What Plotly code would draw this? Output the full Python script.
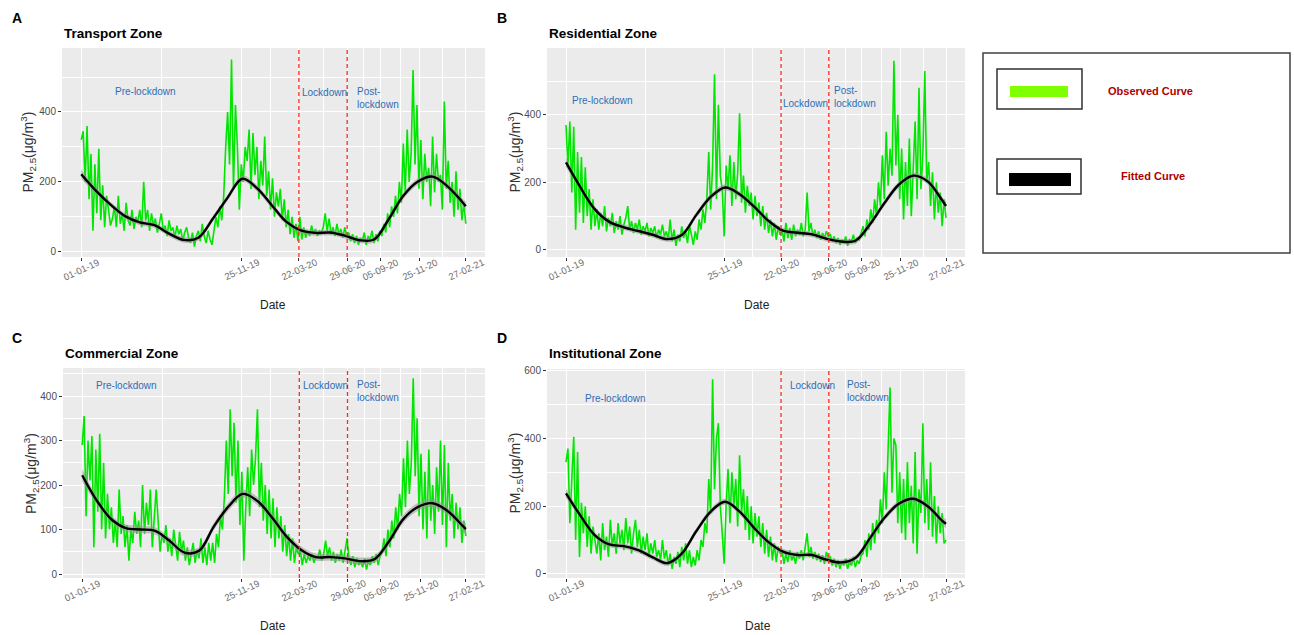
import pandas as pd
import plotly.graph_objects as go

# ---------------- data ----------------
START = pd.Timestamp("2019-01-01")
STEP_DAYS = 4          # observed series sampled every 4 days (01-01-19 .. 27-02-21)
N_OBS = 198

TICK_DAYS = [0, 328, 446, 545, 613, 694, 788]
TICK_LABELS = ["01-01-19", "25-11-19", "22-03-20", "29-06-20", "05-09-20", "25-11-20", "27-02-21"]
LOCKDOWN_DAYS = [446, 545]   # 22-03-20 and 29-06-20

FIT_DAYS = [0, 30, 60, 90, 120, 150, 180, 210, 240, 270, 300, 330, 360, 390, 420,
            450, 480, 510, 540, 570, 600, 630, 660, 690, 720, 750, 780, 788]

transport_obs = [
    320, 345, 200, 360, 150, 280, 60, 250, 110, 295, 90, 190, 70, 160, 120, 75,
    95, 130, 70, 160, 80, 110, 60, 140, 90, 75, 120, 65, 100, 85, 120,
    70, 200, 90, 120, 60, 110, 75, 95, 55, 80, 110, 60, 75, 45, 90, 60, 70,
    40, 75, 50, 65, 30, 55, 70, 40, 25, 55, 15, 45, 60, 30, 80, 45, 25, 60,
    35, 20, 60, 100, 70, 130, 90, 160, 300, 400, 250, 550, 180, 420, 300, 120, 250,
    200, 300, 260, 350, 180, 340, 220, 300, 150, 260, 190, 330, 160, 230, 120, 210, 100, 170,
    130, 180, 90, 150, 70, 120, 50, 100, 40, 80, 30,
    100, 35, 70, 40, 60, 45, 75, 50, 65, 45, 60, 55, 70, 110, 60, 95, 50, 70, 45, 80, 50, 65, 40, 70, 45,
    55, 30, 50, 25, 45, 20, 40, 30, 55, 20, 45, 35, 60, 25, 50, 30, 60,
    45, 80, 55, 110, 70, 130, 100, 160, 110, 200, 140, 310, 170, 350, 200, 280, 520,
    250, 420, 180, 320, 150, 280, 200, 240, 130, 330, 170, 280, 200, 220, 120, 430, 180, 260, 140, 200,
    100, 230, 120, 180, 90, 140, 80,
]
transport_fit = [222, 175, 135, 102, 84, 76, 52, 34, 40, 95, 155, 209, 182, 134, 86,
                 61, 54, 55, 46, 33, 35, 93, 160, 201, 215, 188, 144, 130]

residential_obs = [
    370, 250, 380, 170, 365, 60, 290, 110, 275, 80, 245, 100, 180, 60, 150, 70,
    120, 60, 110, 70, 130, 55, 95, 70, 110, 50, 85, 60, 100, 45, 75, 95, 130, 60,
    85, 50, 80, 60, 90, 45, 70, 55, 80, 40, 65, 50, 70, 35, 60, 45, 75,
    40, 55, 30, 90, 25, 60, 12, 45, 25, 70, 35, 55, 20, 75, 40,
    15, 55, 30, 90, 60, 120, 80, 150, 290, 120, 250, 520, 150, 430, 220, 180, 40,
    250, 180, 280, 130, 260, 150, 230, 405, 140, 220, 110, 190, 130, 170, 90, 160, 100, 140,
    70, 130, 60, 110, 50, 90, 40, 80, 30, 70, 45,
    60, 25, 80, 35, 65, 30, 75, 40, 60, 45, 80, 40, 60, 170, 55, 80, 40, 60, 35, 55, 30, 50, 35, 55, 40,
    45, 25, 40, 20, 35, 15, 30, 20, 40, 12, 30, 25, 45, 20, 35, 30, 50,
    70, 40, 90, 60, 120, 80, 150, 100, 200, 130, 280, 150, 350, 190, 300, 220, 560,
    250, 400, 150, 300, 90, 260, 130, 330, 100, 250, 380, 150, 480, 180, 280, 530, 200, 260, 130, 230,
    90, 200, 110, 170, 70, 150, 95,
]
residential_fit = [259, 185, 120, 83, 67, 56, 45, 32, 44, 103, 157, 185, 165, 128, 86,
                   57, 51, 46, 33, 25, 27, 75, 138, 193, 220, 203, 147, 130]

commercial_obs = [
    290, 355, 130, 300, 210, 310, 60, 280, 140, 315, 100, 250, 80, 180, 100, 150,
    70, 120, 60, 190, 90, 130, 60, 110, 30, 100, 70, 140, 90, 120, 60, 200,
    90, 160, 110, 190, 60, 140, 190, 120, 50, 90, 70, 110, 50, 80, 40, 100,
    60, 30, 95, 50, 75, 30, 60, 20, 45, 70, 25, 55, 35, 80, 25, 60, 20, 70,
    30, 70, 25, 90, 60, 130, 100, 170, 300, 180, 370, 220, 340, 160, 300, 110, 230, 30,
    150, 240, 130, 280, 200, 260, 370, 150, 250, 120, 200, 90, 190, 80, 170, 60, 150, 80,
    130, 50, 110, 40, 90, 30, 80, 25, 60, 45,
    55, 20, 45, 25, 40, 30, 45, 25, 40, 35, 55, 30, 45, 75, 40, 60, 30, 50, 25, 45, 30, 55, 25, 50, 80,
    35, 20, 40, 15, 35, 20, 30, 15, 35, 10, 30, 20, 40, 25, 45, 20, 40,
    50, 80, 40, 100, 60, 120, 80, 150, 100, 180, 130, 260, 150, 300, 180, 250, 440,
    220, 350, 130, 270, 100, 230, 80, 280, 120, 200, 90, 240, 140, 300, 110, 290, 60, 250, 120, 180,
    80, 160, 100, 150, 70, 120, 85,
]
commercial_fit = [222, 165, 123, 103, 100, 97, 74, 48, 52, 106, 151, 180, 164, 127, 84,
                  54, 38, 38, 35, 29, 33, 73, 124, 151, 159, 142, 110, 101]

institutional_obs = [
    330, 370, 150, 290, 405, 100, 360, 50, 210, 120, 200, 80, 170, 60, 140, 100,
    60, 120, 40, 150, 70, 110, 50, 160, 80, 120, 60, 150, 90, 130, 70, 165,
    90, 140, 60, 120, 160, 80, 130, 60, 110, 70, 120, 50, 90, 60, 100, 50,
    70, 40, 100, 45, 70, 25, 60, 15, 50, 30, 65, 20, 80, 40, 90, 30, 70, 20,
    50, 25, 70, 40, 100, 80, 150, 120, 280, 180, 575, 250, 400, 445, 200, 120, 30,
    200, 310, 150, 300, 200, 280, 140, 350, 180, 250, 130, 230, 100, 200, 90, 180, 110, 170,
    80, 150, 60, 130, 50, 110, 40, 90, 35, 80, 60,
    70, 30, 60, 35, 70, 40, 55, 30, 65, 45, 70, 40, 75, 120, 50, 80, 45, 65, 40, 60, 35, 55, 30, 65, 45,
    50, 25, 45, 20, 40, 15, 35, 25, 45, 15, 35, 25, 50, 20, 40, 30, 55,
    60, 100, 50, 120, 70, 150, 90, 160, 120, 220, 150, 300, 190, 350, 550, 240, 400,
    380, 150, 300, 120, 280, 100, 330, 150, 260, 90, 360, 60, 250, 180, 445, 150, 280, 130, 330, 110,
    230, 90, 200, 120, 180, 90, 100,
]
institutional_fit = [238, 172, 114, 87, 82, 70, 49, 32, 60, 126, 184, 213, 184, 136, 94,
                     66, 56, 56, 42, 34, 47, 105, 165, 207, 222, 200, 157, 148]

# half-width of the grey confidence band around the fitted curve
band_halfwidth = [14, 9, 8, 8, 8, 8, 8, 8, 8, 8, 9, 9, 9, 9, 8,
                  8, 8, 8, 8, 8, 8, 9, 9, 9, 9, 9, 10, 14]

# ---------------- layout helpers ----------------
W, H = 1294, 635
def fx(px):
    return px / W
def fy(py):
    return 1 - py / H

obs_dates = [START + pd.Timedelta(days=STEP_DAYS * i) for i in range(N_OBS)]
fit_dates = [START + pd.Timedelta(days=d) for d in FIT_DAYS]
tick_dates = [START + pd.Timedelta(days=d) for d in TICK_DAYS]
minor_dates = [START + pd.Timedelta(days=(a + b) / 2) for a, b in zip(TICK_DAYS[:-1], TICK_DAYS[1:])]
x_range = [START - pd.Timedelta(days=39.4), START + pd.Timedelta(days=827.4)]

FONT = "Liberation Sans, Arial, sans-serif"
BLUE = "#2f6db5"

panels = [
    dict(letter="A", title="Transport Zone", obs=transport_obs, fit=transport_fit,
         xd=(62, 485), yd=(48, 257), yr=(-15, 583), ymaj=[0, 200, 400], ymin=[100, 300, 500],
         letter_xy=(10, 18), ytitle_x=28, date_xy=(273, 305),
         pre=(113, 91), lock=(300, 92), post=(355, 98)),
    dict(letter="B", title="Residential Zone", obs=residential_obs, fit=residential_fit,
         xd=(547, 965), yd=(48, 257), yr=(-21, 598), ymaj=[0, 200, 400], ymin=[100, 300, 500],
         letter_xy=(495, 18), ytitle_x=515, date_xy=(757, 305),
         pre=(570, 101), lock=(781, 103), post=(832, 97)),
    dict(letter="C", title="Commercial Zone", obs=commercial_obs, fit=commercial_fit,
         xd=(63, 485), yd=(368, 578), yr=(-9, 463), ymaj=[0, 100, 200, 300, 400],
         ymin=[50, 150, 250, 350, 450],
         letter_xy=(10, 338), ytitle_x=31, date_xy=(273, 626),
         pre=(94, 385), lock=(301, 385), post=(355, 391)),
    dict(letter="D", title="Institutional Zone", obs=institutional_obs, fit=institutional_fit,
         xd=(547, 965), yd=(369, 578), yr=(-12, 605), ymaj=[0, 200, 400, 600], ymin=[100, 300, 500],
         letter_xy=(495, 338), ytitle_x=515, date_xy=(758, 626),
         pre=(583, 399), lock=(788, 385), post=(845, 391)),
]

fig = go.Figure()
annotations = []
shapes = []
layout_axes = {}

for k, p in enumerate(panels, start=1):
    xa = "x" if k == 1 else f"x{k}"
    ya = "y" if k == 1 else f"y{k}"
    upper = [f + b for f, b in zip(p["fit"], band_halfwidth)]
    lower = [f - b for f, b in zip(p["fit"], band_halfwidth)]

    fig.add_trace(go.Scatter(x=obs_dates, y=p["obs"], mode="lines", xaxis=xa, yaxis=ya,
                             line=dict(color="#00e600", width=1.6), showlegend=False,
                             hoverinfo="skip"))
    fig.add_trace(go.Scatter(x=fit_dates, y=lower, mode="lines", xaxis=xa, yaxis=ya,
                             line=dict(color="rgba(0,0,0,0)", width=0, shape="spline"),
                             showlegend=False, hoverinfo="skip"))
    fig.add_trace(go.Scatter(x=fit_dates, y=upper, mode="lines", xaxis=xa, yaxis=ya,
                             line=dict(color="rgba(0,0,0,0)", width=0, shape="spline"),
                             fill="tonexty", fillcolor="rgba(150,150,150,0.55)",
                             showlegend=False, hoverinfo="skip"))
    fig.add_trace(go.Scatter(x=fit_dates, y=p["fit"], mode="lines", xaxis=xa, yaxis=ya,
                             line=dict(color="black", width=2.4, shape="spline"),
                             showlegend=False, hoverinfo="skip"))
    # lockdown boundaries (vertical dashed lines spanning the panel)
    for d in LOCKDOWN_DAYS:
        xd = START + pd.Timedelta(days=d)
        fig.add_trace(go.Scatter(x=[xd, xd], y=[p["yr"][0], p["yr"][1]], mode="lines",
                                 xaxis=xa, yaxis=ya, showlegend=False, hoverinfo="skip",
                                 line=dict(color="#ff2a20", width=1.3, dash="4px,3px")))

    xkey = "xaxis" if k == 1 else f"xaxis{k}"
    ykey = "yaxis" if k == 1 else f"yaxis{k}"
    layout_axes[xkey] = dict(
        domain=[fx(p["xd"][0]), fx(p["xd"][1])], anchor=ya, type="date", range=x_range,
        tickmode="array", tickvals=tick_dates, ticktext=TICK_LABELS, showticklabels=False,
        ticks="outside", ticklen=3, tickcolor="#333333", tickwidth=1,
        showgrid=True, gridcolor="white", gridwidth=1.3, zeroline=False, showline=False,
        minor=dict(tickmode="array", tickvals=minor_dates, showgrid=True,
                   gridcolor="white", gridwidth=0.6, ticks=""),
        automargin=False, fixedrange=True,
    )
    layout_axes[ykey] = dict(
        domain=[fy(p["yd"][1]), fy(p["yd"][0])], anchor=xa, range=list(p["yr"]),
        tickmode="array", tickvals=p["ymaj"], ticktext=[str(v) for v in p["ymaj"]],
        tickfont=dict(family=FONT, size=10, color="#4d4d4d"),
        ticks="outside", ticklen=3, tickcolor="#333333", tickwidth=1,
        showgrid=True, gridcolor="white", gridwidth=1.3, zeroline=False, showline=False,
        minor=dict(tickmode="array", tickvals=p["ymin"], showgrid=True,
                   gridcolor="white", gridwidth=0.6, ticks=""),
        automargin=False, fixedrange=True,
    )

    # rotated x tick labels, centred under each tick (ggplot style)
    for td, lab in zip(tick_dates, TICK_LABELS):
        annotations.append(dict(text=lab, x=td, xref=xa, y=fy(p["yd"][1] + 12), yref="paper",
                                xanchor="center", yanchor="middle", textangle=-25,
                                showarrow=False, font=dict(family=FONT, size=9.5, color="#6e6e6e")))

    # panel background
    shapes.append(dict(type="rect", xref="paper", yref="paper",
                       x0=fx(p["xd"][0]), x1=fx(p["xd"][1]),
                       y0=fy(p["yd"][1]), y1=fy(p["yd"][0]),
                       fillcolor="#ebebeb", line=dict(width=0), layer="below"))

    # texts
    annotations.append(dict(text=f"<b>{p['letter']}</b>", x=fx(p["letter_xy"][0]),
                            y=fy(p["letter_xy"][1]), xref="paper", yref="paper",
                            xanchor="left", yanchor="middle", showarrow=False,
                            font=dict(family=FONT, size=14, color="black")))
    annotations.append(dict(text=f"<b>{p['title']}</b>", x=fx(p["xd"][0]),
                            y=fy(p["letter_xy"][1] + 15), xref="paper", yref="paper",
                            xanchor="left", yanchor="middle", showarrow=False,
                            font=dict(family=FONT, size=13.5, color="black")))
    annotations.append(dict(text="PM<sub>2.5</sub>(μg/m<sup>3</sup>)", textangle=-90,
                            x=fx(p["ytitle_x"]), y=fy((p["yd"][0] + p["yd"][1]) / 2),
                            xref="paper", yref="paper", xanchor="center", yanchor="middle",
                            showarrow=False, font=dict(family=FONT, size=14, color="#333333")))
    annotations.append(dict(text="Date", x=fx(p["date_xy"][0]), y=fy(p["date_xy"][1]),
                            xref="paper", yref="paper", xanchor="center", yanchor="middle",
                            showarrow=False, font=dict(family=FONT, size=12, color="#222222")))
    for txt, pos in (("Pre-lockdown", p["pre"]), ("Lockdown", p["lock"]),
                     ("Post-<br>lockdown", p["post"])):
        annotations.append(dict(text=txt, x=fx(pos[0]), y=fy(pos[1]), xref="paper",
                                yref="paper", xanchor="left", yanchor="middle", align="left",
                                showarrow=False, font=dict(family=FONT, size=10, color=BLUE)))

# ---------------- legend box ----------------
shapes.append(dict(type="rect", xref="paper", yref="paper", x0=fx(983), x1=fx(1290),
                   y0=fy(253), y1=fy(53), line=dict(color="#404040", width=1.5),
                   fillcolor="white"))
shapes.append(dict(type="rect", xref="paper", yref="paper", x0=fx(997), x1=fx(1082),
                   y0=fy(109), y1=fy(69), line=dict(color="#303030", width=1.5)))
shapes.append(dict(type="rect", xref="paper", yref="paper", x0=fx(1010), x1=fx(1068),
                   y0=fy(97), y1=fy(86), line=dict(width=0), fillcolor="#80ff00"))
shapes.append(dict(type="rect", xref="paper", yref="paper", x0=fx(997), x1=fx(1081),
                   y0=fy(194), y1=fy(159), line=dict(color="#303030", width=1.5)))
shapes.append(dict(type="rect", xref="paper", yref="paper", x0=fx(1009), x1=fx(1071),
                   y0=fy(186), y1=fy(173), line=dict(width=0), fillcolor="black"))
annotations.append(dict(text="<b>Observed Curve</b>", x=fx(1106), y=fy(91), xref="paper",
                        yref="paper", xanchor="left", yanchor="middle", showarrow=False,
                        font=dict(family=FONT, size=11, color="#b00000")))
annotations.append(dict(text="<b>Fitted Curve</b>", x=fx(1119), y=fy(176), xref="paper",
                        yref="paper", xanchor="left", yanchor="middle", showarrow=False,
                        font=dict(family=FONT, size=11, color="#b00000")))

fig.update_layout(
    template="none",
    width=W, height=H,
    margin=dict(l=0, r=0, t=0, b=0),
    paper_bgcolor="white", plot_bgcolor="rgba(0,0,0,0)",
    showlegend=False,
    font=dict(family=FONT, size=11, color="#333333"),
    annotations=annotations, shapes=shapes,
    **layout_axes,
)

fig.write_html("out.html", config={"displayModeBar": False})
